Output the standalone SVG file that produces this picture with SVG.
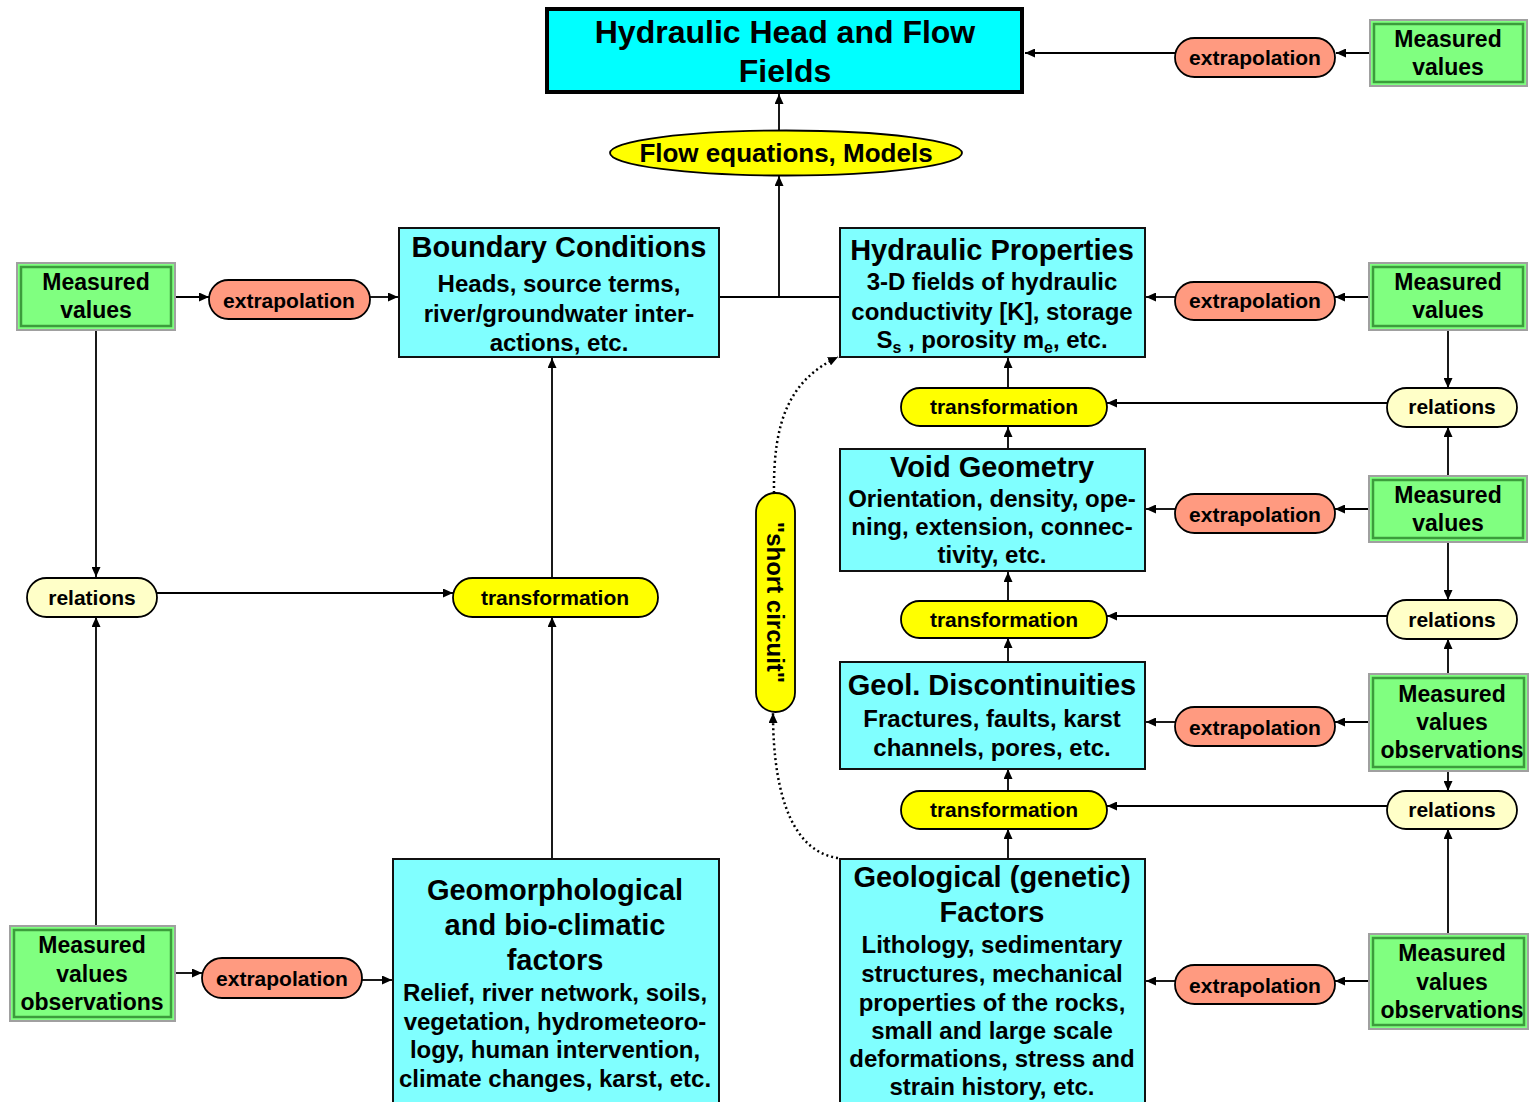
<svg xmlns="http://www.w3.org/2000/svg" width="1534" height="1102" viewBox="0 0 1534 1102">
<defs>
<marker id="ah" viewBox="0 0 10 9" refX="10" refY="4.5" markerWidth="10" markerHeight="9" markerUnits="userSpaceOnUse" orient="auto">
<path d="M0,0 L10,4.5 L0,9 z" fill="#000"/>
</marker>
</defs>
<style>
text{font-family:"Liberation Sans",Arial,sans-serif;font-weight:bold;fill:#000;text-anchor:middle}
.box{fill:#80FFFF;stroke:#111;stroke-width:2}
.top{fill:#00FFFF;stroke:#000;stroke-width:4}
.meas{fill:#80FF80;stroke:#A0A0A0;stroke-width:2}
.measin{fill:none;stroke:#3C9C3C;stroke-width:2.5}
.ext{fill:#FF9A80;stroke:#000;stroke-width:1.8}
.rel{fill:#FFFFC8;stroke:#000;stroke-width:1.8}
.tr{fill:#FFFF00;stroke:#000;stroke-width:1.8}
.t32{font-size:32px}
.t29{font-size:29px}
.t24{font-size:24px}
.t23{font-size:23px}
.t21{font-size:21px}
.t26{font-size:26px}
.c{fill:none;stroke:#000;stroke-width:1.8}
.ca{fill:none;stroke:#000;stroke-width:1.8;marker-end:url(#ah)}
.dot{fill:none;stroke:#000;stroke-width:2.5;stroke-dasharray:2 3;marker-end:url(#ah)}
.sub{font-size:16px}
</style>

<g id="connectors">
<path class="ca" d="M779,131 L779,94"/>
<path class="c" d="M719,297 L840,297"/>
<path class="ca" d="M779,297 L779,176"/>
<path class="ca" d="M1369,53 L1336,53"/>
<path class="ca" d="M1175,53 L1025,53"/>
<path class="ca" d="M176,297 L209,297"/>
<path class="ca" d="M370,297 L398,297"/>
<path class="ca" d="M96,331 L96,577"/>
<path class="ca" d="M96,925 L96,617"/>
<path class="ca" d="M157,593 L453,593"/>
<path class="ca" d="M552,858 L552,617"/>
<path class="ca" d="M552,578 L552,358"/>
<path class="ca" d="M175,973 L202,973"/>
<path class="ca" d="M362,980 L392,980"/>
<path class="ca" d="M1368,297 L1335,297"/>
<path class="ca" d="M1175,297 L1146,297"/>
<path class="ca" d="M1448,331 L1448,388"/>
<path class="ca" d="M1387,403 L1107,403"/>
<path class="ca" d="M1008,388 L1008,358"/>
<path class="ca" d="M1008,448 L1008,427"/>
<path class="ca" d="M1448,475 L1448,427"/>
<path class="ca" d="M1368,509 L1335,509"/>
<path class="ca" d="M1175,509 L1146,509"/>
<path class="ca" d="M1448,543 L1448,600"/>
<path class="ca" d="M1387,616 L1107,616"/>
<path class="ca" d="M1008,601 L1008,572"/>
<path class="ca" d="M1008,661 L1008,638"/>
<path class="ca" d="M1448,673 L1448,639"/>
<path class="ca" d="M1368,722 L1335,722"/>
<path class="ca" d="M1175,722 L1146,722"/>
<path class="ca" d="M1448,772 L1448,791"/>
<path class="ca" d="M1387,806 L1107,806"/>
<path class="ca" d="M1008,791 L1008,769"/>
<path class="ca" d="M1008,858 L1008,829"/>
<path class="ca" d="M1448,933 L1448,829"/>
<path class="ca" d="M1368,981 L1335,981"/>
<path class="ca" d="M1175,981 L1146,981"/>
<path class="dot" d="M774,493 C773,420 790,380 838,357"/>
<path class="dot" d="M838,858 C795,852 773,800 773,713"/>
</g>

<g id="hydraulic-head">
<rect class="top" x="547" y="9" width="475" height="83"/>
<text class="t32" x="785" y="43">Hydraulic Head and Flow</text>
<text class="t32" x="785" y="82">Fields</text>
</g>

<g id="flow-equations">
<ellipse class="tr" cx="786" cy="153" rx="176" ry="22.5"/>
<text class="t26" x="786" y="162">Flow equations, Models</text>
</g>

<g id="extrap-top">
<rect class="ext" x="1175" y="38" width="160" height="39" rx="19.5"/>
<text class="t21" x="1255" y="65">extrapolation</text>
</g>
<g id="meas-top">
<rect class="meas" x="1370" y="20" width="157" height="66"/>
<rect class="measin" x="1374" y="24" width="149" height="58"/>
<text class="t23" x="1448" y="47">Measured</text>
<text class="t23" x="1448" y="75">values</text>
</g>

<g id="meas-left-top">
<rect class="meas" x="17" y="263" width="158" height="67"/>
<rect class="measin" x="21" y="267" width="150" height="59"/>
<text class="t23" x="96" y="290">Measured</text>
<text class="t23" x="96" y="318">values</text>
</g>
<g id="extrap-left-top">
<rect class="ext" x="209" y="280" width="161" height="39" rx="19.5"/>
<text class="t21" x="289" y="308">extrapolation</text>
</g>

<g id="boundary-conditions">
<rect class="box" x="399" y="228" width="320" height="129"/>
<text class="t29" x="559" y="257">Boundary Conditions</text>
<text class="t24" x="559" y="292">Heads, source terms,</text>
<text class="t24" x="559" y="322">river/groundwater inter-</text>
<text class="t24" x="559" y="351">actions, etc.</text>
</g>

<g id="hydraulic-properties">
<rect class="box" x="840" y="228" width="305" height="129"/>
<text class="t29" x="992" y="260">Hydraulic Properties</text>
<text class="t24" x="992" y="290">3-D fields of hydraulic</text>
<text class="t24" x="992" y="320">conductivity [K], storage</text>
<text class="t24" x="992" y="348">S<tspan class="sub" dy="5">s</tspan><tspan dy="-5"> , porosity m</tspan><tspan class="sub" dy="5">e</tspan><tspan dy="-5">, etc.</tspan></text>
</g>
<g id="extrap-hp">
<rect class="ext" x="1175" y="282" width="160" height="38" rx="19"/>
<text class="t21" x="1255" y="308">extrapolation</text>
</g>
<g id="meas-hp">
<rect class="meas" x="1369" y="263" width="158" height="67"/>
<rect class="measin" x="1373" y="267" width="150" height="59"/>
<text class="t23" x="1448" y="290">Measured</text>
<text class="t23" x="1448" y="318">values</text>
</g>
<g id="relations-1">
<rect class="rel" x="1387" y="388" width="130" height="39" rx="19.5"/>
<text class="t21" x="1452" y="414">relations</text>
</g>
<g id="transformation-1">
<rect class="tr" x="901" y="388" width="206" height="38" rx="19"/>
<text class="t21" x="1004" y="414">transformation</text>
</g>

<g id="void-geometry">
<rect class="box" x="840" y="449" width="305" height="122"/>
<text class="t29" x="992" y="477">Void Geometry</text>
<text class="t24" x="992" y="507">Orientation, density, ope-</text>
<text class="t24" x="992" y="535">ning, extension, connec-</text>
<text class="t24" x="992" y="563">tivity, etc.</text>
</g>
<g id="extrap-void">
<rect class="ext" x="1175" y="494" width="160" height="39" rx="19.5"/>
<text class="t21" x="1255" y="522">extrapolation</text>
</g>
<g id="meas-void">
<rect class="meas" x="1369" y="476" width="158" height="66"/>
<rect class="measin" x="1373" y="480" width="150" height="58"/>
<text class="t23" x="1448" y="503">Measured</text>
<text class="t23" x="1448" y="531">values</text>
</g>
<g id="relations-2">
<rect class="rel" x="1387" y="600" width="130" height="39" rx="19.5"/>
<text class="t21" x="1452" y="627">relations</text>
</g>
<g id="transformation-2">
<rect class="tr" x="901" y="601" width="206" height="37" rx="18.5"/>
<text class="t21" x="1004" y="627">transformation</text>
</g>

<g id="geol-discontinuities">
<rect class="box" x="840" y="662" width="305" height="107"/>
<text class="t29" x="992" y="695">Geol. Discontinuities</text>
<text class="t24" x="992" y="727">Fractures, faults, karst</text>
<text class="t24" x="992" y="756">channels, pores, etc.</text>
</g>
<g id="extrap-disc">
<rect class="ext" x="1175" y="707" width="160" height="39" rx="19.5"/>
<text class="t21" x="1255" y="735">extrapolation</text>
</g>
<g id="meas-disc">
<rect class="meas" x="1369" y="674" width="159" height="97"/>
<rect class="measin" x="1373" y="678" width="151" height="89"/>
<text class="t23" x="1452" y="702">Measured</text>
<text class="t23" x="1452" y="730">values</text>
<text class="t23" x="1452" y="758">observations</text>
</g>
<g id="relations-3">
<rect class="rel" x="1387" y="791" width="130" height="38" rx="19"/>
<text class="t21" x="1452" y="817">relations</text>
</g>
<g id="transformation-3">
<rect class="tr" x="901" y="791" width="206" height="38" rx="19"/>
<text class="t21" x="1004" y="817">transformation</text>
</g>

<g id="geological-factors">
<rect class="box" x="840" y="859" width="305" height="246"/>
<text class="t29" x="992" y="887">Geological (genetic)</text>
<text class="t29" x="992" y="922">Factors</text>
<text class="t24" x="992" y="953">Lithology, sedimentary</text>
<text class="t24" x="992" y="982">structures, mechanical</text>
<text class="t24" x="992" y="1011">properties of the rocks,</text>
<text class="t24" x="992" y="1039">small and large scale</text>
<text class="t24" x="992" y="1067">deformations, stress and</text>
<text class="t24" x="992" y="1095">strain history, etc.</text>
</g>
<g id="extrap-geo">
<rect class="ext" x="1175" y="965" width="160" height="39" rx="19.5"/>
<text class="t21" x="1255" y="993">extrapolation</text>
</g>
<g id="meas-geo">
<rect class="meas" x="1369" y="934" width="159" height="95"/>
<rect class="measin" x="1373" y="938" width="151" height="87"/>
<text class="t23" x="1452" y="961">Measured</text>
<text class="t23" x="1452" y="990">values</text>
<text class="t23" x="1452" y="1018">observations</text>
</g>

<g id="short-circuit">
<rect class="tr" x="756" y="493" width="39" height="219" rx="19.5"/>
<text class="t24" transform="translate(775.5,602.5) rotate(90)" x="0" y="8.5">"short circuit"</text>
</g>

<g id="relations-left">
<rect class="rel" x="27" y="578" width="130" height="39" rx="19.5"/>
<text class="t21" x="92" y="605">relations</text>
</g>
<g id="transformation-left">
<rect class="tr" x="453" y="578" width="205" height="39" rx="19.5"/>
<text class="t21" x="555" y="605">transformation</text>
</g>

<g id="meas-left-bottom">
<rect class="meas" x="10" y="926" width="165" height="95"/>
<rect class="measin" x="14" y="930" width="157" height="87"/>
<text class="t23" x="92" y="953">Measured</text>
<text class="t23" x="92" y="982">values</text>
<text class="t23" x="92" y="1010">observations</text>
</g>
<g id="extrap-left-bottom">
<rect class="ext" x="202" y="958" width="160" height="40" rx="20"/>
<text class="t21" x="282" y="986">extrapolation</text>
</g>
<g id="geomorphological">
<rect class="box" x="393" y="859" width="326" height="246"/>
<text class="t29" x="555" y="900">Geomorphological</text>
<text class="t29" x="555" y="935">and bio-climatic</text>
<text class="t29" x="555" y="970">factors</text>
<text class="t24" x="555" y="1001">Relief, river network, soils,</text>
<text class="t24" x="555" y="1030">vegetation, hydrometeoro-</text>
<text class="t24" x="555" y="1058">logy, human intervention,</text>
<text class="t24" x="555" y="1087">climate changes, karst, etc.</text>
</g>
</svg>
